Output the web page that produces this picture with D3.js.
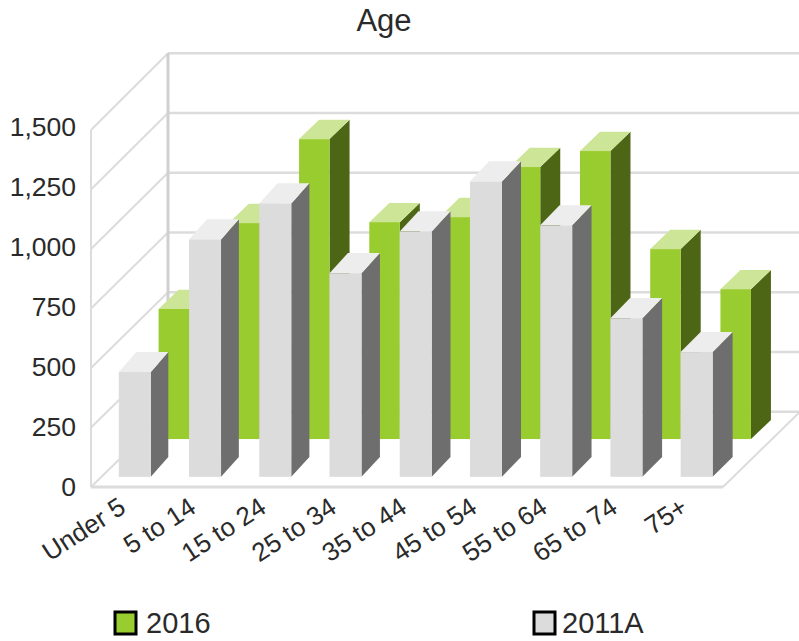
<!DOCTYPE html>
<html>
<head>
<meta charset="utf-8">
<script src="https://cdnjs.cloudflare.com/ajax/libs/d3/7.8.5/d3.min.js"></script>
<style>
html, body { margin: 0; padding: 0; background: #fff; }
svg { display: block; }
text { font-family: "Liberation Sans", Arial, sans-serif; fill: #2a2a2a; }
</style>
</head>
<body>
<svg width="799" height="641"></svg>
<script>
var categories = ["Under 5", "5 to 14", "15 to 24", "25 to 34", "35 to 44", "45 to 54", "55 to 64", "65 to 74", "75+"];
var values2016 = [545, 905, 1257, 909, 930, 1140, 1207, 796, 628];
var values2011 = [440, 997, 1148, 855, 1030, 1240, 1056, 666, 524];
var yTicks = [0, 250, 500, 750, 1000, 1250, 1500];
var seriesNames = ["2016", "2011A"];

var svg = d3.select("svg");

var defs = svg.append("defs");
defs.append("filter").attr("id", "soft")
    .append("feGaussianBlur").attr("stdDeviation", 0.5);

var plot = svg.append("g").attr("filter", "url(#soft)");

var x = d3.scaleBand().domain(categories).range([91, 723]).paddingInner(0.545).paddingOuter(0.272);
var yFront = d3.scaleLinear().domain([0, 1500]).range([487, 130]);
var yBack = d3.scaleLinear().domain([0, 1500]).range([411.7, 53.3]);
var yLabels = d3.scaleLinear().domain([0, 1500]).range([486, 126]);
var depth = 77;

// z runs from 0 at the front of the floor to 1 at the back wall
function yAt(v, z) {
    return yFront(v) * (1 - z) + yBack(v) * z;
}

function pts(list) {
    return list.map(function(p) { return p.join(","); }).join(" ");
}

// walls and floor
var gridColor = "#dcdcdc";
yTicks.forEach(function(t) {
    plot.append("line")
        .attr("x1", x.range()[0]).attr("y1", yFront(t))
        .attr("x2", x.range()[0] + depth).attr("y2", yBack(t))
        .attr("stroke", gridColor).attr("stroke-width", 2);
    plot.append("line")
        .attr("x1", x.range()[0] + depth).attr("y1", yBack(t))
        .attr("x2", x.range()[1] + depth).attr("y2", yBack(t))
        .attr("stroke", gridColor).attr("stroke-width", 2.5);
});
plot.append("line")
    .attr("x1", x.range()[0]).attr("y1", yFront(0))
    .attr("x2", x.range()[0]).attr("y2", yFront(1500))
    .attr("stroke", gridColor).attr("stroke-width", 2);
plot.append("line")
    .attr("x1", x.range()[0] + depth).attr("y1", yBack(0))
    .attr("x2", x.range()[0] + depth).attr("y2", yBack(1500))
    .attr("stroke", "#d0d0d0").attr("stroke-width", 3);
plot.append("line")
    .attr("x1", x.range()[0]).attr("y1", yFront(0))
    .attr("x2", x.range()[1]).attr("y2", yFront(0))
    .attr("stroke", gridColor).attr("stroke-width", 3);
plot.append("line")
    .attr("x1", x.range()[1]).attr("y1", yFront(0))
    .attr("x2", x.range()[1] + depth).attr("y2", yBack(0))
    .attr("stroke", gridColor).attr("stroke-width", 2);

var sideGrey = d3.scaleLinear().domain([0, categories.length - 1]).range([17.5, 20]);

function drawBars(values, o) {
    var g = plot.append("g");
    values.forEach(function(v, i) {
        var c = categories[i];
        var x0 = x(c) + o.shift;
        var x1 = x0 + o.width;
        var dx = o.side(i);
        g.append("polygon")
            .attr("points", pts([[x1, yAt(0, o.z0)], [x1 + dx, yAt(0, o.z1)], [x1 + dx, yAt(v, o.z1)], [x1, yAt(v, o.z0)]]))
            .attr("fill", o.sideColor);
        g.append("polygon")
            .attr("points", pts([[x0, yAt(v, o.z0)], [x0 + dx, yAt(v, o.z1)], [x1 + dx, yAt(v, o.z1)], [x1, yAt(v, o.z0)]]))
            .attr("fill", o.topColor);
        g.append("rect")
            .attr("x", x0).attr("y", yAt(v, o.z0))
            .attr("width", o.width).attr("height", yAt(0, o.z0) - yAt(v, o.z0))
            .attr("fill", o.color);
    });
}

drawBars(values2016, {
    shift: 48.5, width: 30.5, z0: 0.637, z1: 0.89,
    side: function() { return 20; },
    color: "#99cc2e", topColor: "#cce596", sideColor: "#4d6618"
});
drawBars(values2011, {
    shift: 8.7, width: 32, z0: 0.135, z1: 0.4,
    side: sideGrey,
    color: "#dcdcdc", topColor: "#ededed", sideColor: "#6e6e6e"
});

// axes
var yAxis = svg.append("g")
    .attr("transform", "translate(76,0)")
    .call(d3.axisLeft(yLabels).tickValues(yTicks).tickFormat(d3.format(",")).tickSize(0).tickPadding(0));
yAxis.select(".domain").remove();
yAxis.attr("font-family", null);
yAxis.selectAll("text").attr("font-size", 26.5).attr("dy", "0.36em");

var xAxis = svg.append("g")
    .attr("transform", "translate(0,494)")
    .call(d3.axisBottom(x).tickSize(0).tickPadding(0));
xAxis.select(".domain").remove();
xAxis.attr("font-family", null);
xAxis.selectAll("text")
    .attr("font-size", 26)
    .attr("text-anchor", "end")
    .attr("dy", "0.8em")
    .attr("transform", "translate(-10,0) rotate(-33)");

svg.append("text").attr("x", 384).attr("y", 31)
    .attr("text-anchor", "middle").attr("font-size", 31).text("Age");

// legend
var legendX = [115, 534];
var legendFill = ["#99cc2e", "#dcdcdc"];
var legendTextX = [146, 562];
seriesNames.forEach(function(name, i) {
    svg.append("rect")
        .attr("x", legendX[i]).attr("y", 612)
        .attr("width", 21).attr("height", 22)
        .attr("fill", legendFill[i])
        .attr("stroke", "#000").attr("stroke-width", 3);
    svg.append("text")
        .attr("x", legendTextX[i]).attr("y", 633)
        .attr("font-size", 29).text(name);
});
</script>
</body>
</html>
